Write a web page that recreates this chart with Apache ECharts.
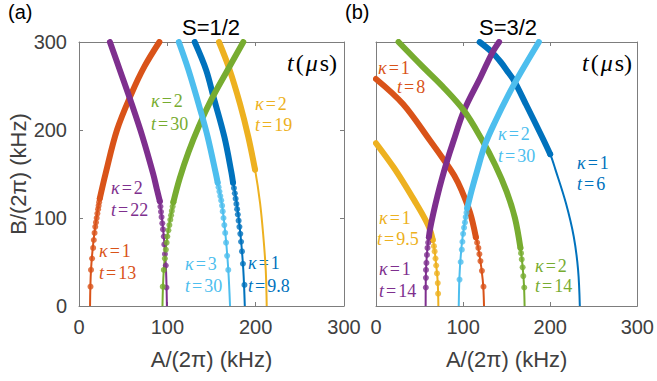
<!DOCTYPE html>
<html>
<head>
<meta charset="utf-8">
<script src="https://cdn.jsdelivr.net/npm/echarts@6/dist/echarts.min.js"></script>
<style>
  html, body { margin: 0; padding: 0; background: #fff; }
  #chart { width: 657px; height: 381px; }
</style>
</head>
<body>
<div id="chart"></div>
<script>
// Resonance curves in the hyperfine plane. Each point is [A/(2π), B/(2π)] in kHz.
// For every curve: the full line, the sampled points drawn as dots, and the
// dense upper part (from the last dot upward) drawn as a thick band.

const tickValues = [0, 100, 200, 300];

// ---- panel (a), S=1/2 ----
const aOrangeLine = [[12.5,0],[13.6,41],[17,79],[22.5,117],[30,150],[43,200],[59.7,242],[74,272],[91,300]];
const aOrangeDots = [[13,22],[13.6,41],[14.8,54],[16,66],[16.8,75],[17.6,83],[18.4,90],[19.2,95],[20,100],[20.8,105],[21.6,110],[22.2,114],[22.8,118],[23.5,122]];

const aPurpleLine = [[99.5,0],[98.5,41],[96,79],[91.7,117],[88.3,132],[84,150],[72,192],[59.7,229.5],[46.4,267.6],[35,300]];
const aPurpleDots = [[99,21],[98.2,46],[97.3,59],[96.6,70],[96,79],[95.1,87],[94.3,94],[93.5,101],[92.8,107],[92.2,113],[91.5,119]];

const aGreenLine = [[94.5,0],[96,41],[100,79],[106,113],[114,145],[124,175],[136,205],[150,235],[167,266],[186,300]];
const aGreenDots = [[94.8,22],[96,41],[97.2,54],[98.3,64],[99.2,72],[100,79],[101.2,86],[102.3,92],[103.4,98],[104.2,103],[105.1,108],[106,113],[106.8,118]];

const aCyanLine = [[171,0],[169,41],[166,79],[161.6,117],[155,150],[145.7,192],[139,217],[124,268],[113,300]];
const aCyanDots = [[169,41],[167.7,57],[166.5,72],[165.5,83],[164.5,92],[163.6,100],[162.7,107.5],[162,114],[161,120],[160,125],[159,130],[158,135],[157,140]];

const aBlueLine = [[187.7,0],[186,41],[183,79],[178.6,117],[172.5,152],[164.6,192],[152,238.5],[144,268],[131,300]];
const aBlueDots = [[187.3,24],[185.6,48],[184.5,62],[183.5,73],[182.6,82],[181.6,90],[180.7,97],[179.8,104],[179,110],[178.2,116],[177.3,122],[176.4,128],[175.4,134],[174.4,140]];

const aYellowLine = [[212.5,0],[211.4,41],[208.7,79],[205,117],[199.3,155],[191.7,192],[182.3,229.5],[170,270],[158.5,300]];
const aYellowDots = [[199.3,155]];

// ---- panel (b), S=3/2 ----
const bGreenLine = [[170.6,0],[169.5,30],[166,65],[159.5,100],[150,130],[137,160],[121,190],[101,222],[76,250],[53.5,272],[25.9,300]];
const bGreenDots = [[170.2,21],[169.1,34],[168.3,44],[167.3,53],[166.5,60],[165.8,66]];

const bOrangeLine = [[124,0],[122.5,30],[117,68],[108,106],[98,132],[90,148],[80,163],[62,188],[31,229.5],[0,258]];
const bOrangeDots = [[123.4,22],[121.6,40],[119.9,51],[118.7,59],[117.5,66],[116.1,72],[114.7,78]];

const bYellowLine = [[71.6,0],[70.8,28],[68.5,52],[66,72],[61.5,88],[54,103],[44,120],[33,138],[20,158],[0,185]];
const bYellowDots = [[71.3,14],[70.9,26],[70,37],[69.1,46],[68.3,54],[67.3,62],[66.5,68],[65.2,75]];

const bPurpleLine = [[57,0],[57.4,40],[59.3,68],[62,87],[66,106],[70.5,125],[75.5,144],[81,163],[88.5,186],[101,222],[120,260],[133.6,288],[141.3,300]];
const bPurpleDots = [[57.2,21],[57.3,32],[57.4,41],[57.9,49],[58.5,58],[59.1,66],[59.9,72],[60.7,78]];

const bCyanLine = [[95,0],[96.2,41],[99.5,79],[104.5,110],[110,132],[116.5,155],[125,183],[137,210],[152,240],[166,265],[187,300]];
const bCyanDots = [[95.9,30],[97.2,50],[98.5,64],[99.2,73],[100,82],[101.1,89],[102.1,95],[103,101],[103.9,106],[104.7,111]];

const bBlueLine = [[234,0],[232,41],[227,79],[218,117],[206,155],[200,172.5],[190.7,192],[172,229.5],[158.5,256],[150,268],[143.4,277],[133.6,288],[119,300]];
const bBlueDots = [[200,172.5]];

// ---- styling ----
const COLORS = {
  blue: '#0072BD', orange: '#D95319', yellow: '#EDB120',
  purple: '#7E2F8E', green: '#77AC30', cyan: '#4DBEEE'
};
const AXIS_COLOR = '#7d7d7d';
const LABEL_COLOR = '#404040';
const SANS = 'Liberation Sans';
const SERIF = 'Liberation Serif';

function curveSeries(line, dots, color, panel) {
  const last = dots[dots.length - 1];
  const band = [last].concat(line.filter(p => p[1] > last[1]));
  const common = { xAxisIndex: panel * 2, yAxisIndex: panel * 2, silent: true, animation: false };
  return [
    Object.assign({
      type: 'line', data: line, showSymbol: false, smooth: 0.35,
      lineStyle: { color: color, width: 2 }, z: 2
    }, common),
    Object.assign({
      type: 'line', data: band, showSymbol: false, smooth: 0.35,
      lineStyle: { color: color, width: 6, cap: 'round' }, z: 3
    }, common),
    Object.assign({
      type: 'scatter', data: dots, symbol: 'circle', symbolSize: 6,
      itemStyle: { color: color }, z: 4
    }, common)
  ];
}

function xAxisPair(grid) {
  const base = {
    type: 'value', gridIndex: grid, min: 0, max: 300, interval: 100,
    splitLine: { show: false },
    axisLine: { show: true, onZero: false, lineStyle: { color: AXIS_COLOR, width: 1 } },
    axisTick: { show: true, inside: true, length: 4, lineStyle: { color: AXIS_COLOR } }
  };
  return [
    Object.assign({}, base, {
      position: 'bottom',
      axisLabel: {
        show: true, margin: 11, color: LABEL_COLOR, fontSize: 20, fontFamily: SANS,
        showMinLabel: true, showMaxLabel: true,
        formatter: v => tickValues.includes(v) ? String(v) : ''
      },
      name: 'A/(2π) (kHz)', nameLocation: 'middle', nameGap: 42,
      nameTextStyle: { color: LABEL_COLOR, fontSize: 22, fontFamily: SANS }
    }),
    Object.assign({}, base, { position: 'top', axisLabel: { show: false } })
  ];
}

function yAxisPair(grid, withLabels) {
  const base = {
    type: 'value', gridIndex: grid, min: 0, max: 300, interval: 100,
    splitLine: { show: false },
    axisLine: { show: true, onZero: false, lineStyle: { color: AXIS_COLOR, width: 1 } },
    axisTick: { show: withLabels, inside: true, length: 4, lineStyle: { color: AXIS_COLOR } }
  };
  const left = Object.assign({}, base, { position: 'left' });
  if (withLabels) {
    left.axisLabel = {
      show: true, margin: 12, color: LABEL_COLOR, fontSize: 20, fontFamily: SANS,
      showMinLabel: true, showMaxLabel: true,
      formatter: v => tickValues.includes(v) ? String(v) : ''
    };
    left.name = 'B/(2π) (kHz)';
    left.nameLocation = 'middle';
    left.nameGap = 49;
    left.nameTextStyle = { color: LABEL_COLOR, fontSize: 22, fontFamily: SANS };
  } else {
    left.axisLabel = { show: false };
  }
  return [left, Object.assign({}, base, { position: 'right', axisLabel: { show: false } })];
}

// two-line curve annotations: kappa line and time line
function richFor(color, size) {
  return {
    i: { fontFamily: SERIF, fontStyle: 'italic', fontSize: size, fill: color, color: color },
    e: { fontFamily: SERIF, fontSize: size, fill: color, color: color, padding: [0, 2, 0, 2] },
    n: { fontFamily: SERIF, fontSize: size, fill: color, color: color }
  };
}
function note(x, y, text, color) {
  return {
    type: 'text', x: x, y: y, silent: true,
    style: {
      text: text, rich: richFor(color, 18), align: 'left', verticalAlign: 'middle',
      fill: color, fontFamily: SERIF, fontSize: 18
    }
  };
}
function pairNote(x1, y1, x2, y2, k, t, color) {
  return [
    note(x1, y1, '{i|κ}{e|=}{n|' + k + '}', color),
    note(x2, y2, '{i|t}{e|=}{n|' + t + '}', color)
  ];
}
function timeUnit(xRight, y) {
  return {
    type: 'text', x: xRight, y: y, silent: true,
    style: {
      text: '{i|t}{n|(}{i|μ}{n|s)}', align: 'right', verticalAlign: 'middle', fill: '#000',
      fontFamily: SERIF, fontSize: 24,
      rich: {
        i: { fontFamily: SERIF, fontStyle: 'italic', fontSize: 24, fill: '#000', padding: [0, 1, 0, 1] },
        n: { fontFamily: SERIF, fontSize: 24, fill: '#000', padding: [0, 1, 0, 1] }
      }
    }
  };
}
function plainText(x, y, text, size, align) {
  return {
    type: 'text', x: x, y: y, silent: true,
    style: { text: text, fontFamily: SANS, fontSize: size, fill: '#000', align: align, verticalAlign: 'middle' }
  };
}

const chart = echarts.init(document.getElementById('chart'), null, { renderer: 'svg' });

const xa = xAxisPair(0), xb = xAxisPair(1);
const ya = yAxisPair(0, true), yb = yAxisPair(1, false);

const series = [].concat(
  curveSeries(aBlueLine, aBlueDots, COLORS.blue, 0),
  curveSeries(aOrangeLine, aOrangeDots, COLORS.orange, 0),
  curveSeries(aYellowLine, aYellowDots, COLORS.yellow, 0),
  curveSeries(aPurpleLine, aPurpleDots, COLORS.purple, 0),
  curveSeries(aGreenLine, aGreenDots, COLORS.green, 0),
  curveSeries(aCyanLine, aCyanDots, COLORS.cyan, 0),
  curveSeries(bBlueLine, bBlueDots, COLORS.blue, 1),
  curveSeries(bOrangeLine, bOrangeDots, COLORS.orange, 1),
  curveSeries(bYellowLine, bYellowDots, COLORS.yellow, 1),
  curveSeries(bPurpleLine, bPurpleDots, COLORS.purple, 1),
  curveSeries(bGreenLine, bGreenDots, COLORS.green, 1),
  curveSeries(bCyanLine, bCyanDots, COLORS.cyan, 1)
);

const graphics = [].concat(
  [plainText(8, 12, '(a)', 20, 'left'), plainText(345, 12, '(b)', 20, 'left')],
  [plainText(211, 27, 'S=1/2', 22, 'center'), plainText(508, 27, 'S=3/2', 22, 'center')],
  [timeUnit(338, 63), timeUnit(633, 63)],
  pairNote(151, 101, 151, 123.5, '2', '30', COLORS.green),
  pairNote(255, 103.5, 255, 125, '2', '19', COLORS.yellow),
  pairNote(111, 188, 111, 210, '2', '22', COLORS.purple),
  pairNote(99, 251, 99, 273, '1', '13', COLORS.orange),
  pairNote(185, 264, 185, 286, '3', '30', COLORS.cyan),
  pairNote(248, 263, 248, 285.5, '1', '9.8', COLORS.blue),
  pairNote(378, 68, 397, 87, '1', '8', COLORS.orange),
  pairNote(498, 134, 498, 155.5, '2', '30', COLORS.cyan),
  pairNote(577, 162.5, 577, 184, '1', '6', COLORS.blue),
  pairNote(379, 217.5, 377, 238.5, '1', '9.5', COLORS.yellow),
  pairNote(379, 269, 379, 290.5, '1', '14', COLORS.purple),
  pairNote(535, 265.5, 535, 285.5, '2', '14', COLORS.green)
);

chart.setOption({
  animation: false,
  backgroundColor: '#fff',
  grid: [
    { left: 79, top: 42, width: 265, height: 264 },
    { left: 376, top: 42, width: 264, height: 264 }
  ],
  xAxis: [xa[0], xa[1], xb[0], xb[1]],
  yAxis: [ya[0], ya[1], yb[0], yb[1]],
  series: series,
  graphic: graphics
});
</script>
</body>
</html>
